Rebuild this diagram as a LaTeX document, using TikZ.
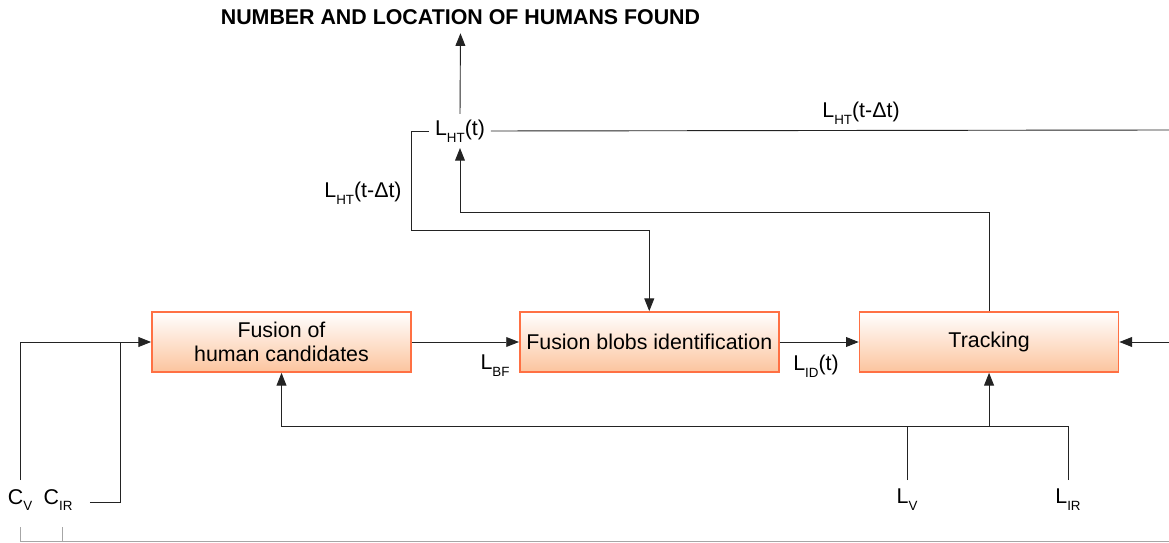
\documentclass[tikz,border=0pt]{standalone}
\usepackage{fontspec}
\setmainfont{Liberation Sans}
\usepackage{tikz}
\usetikzlibrary{arrows.meta,positioning}
\definecolor{boxedge}{RGB}{255,112,67}
\definecolor{boxfill}{RGB}{252,196,158}
\definecolor{wirecol}{RGB}{35,35,35}
% letter with a lowered small index
\newcommand{\lsub}[2]{#1\raisebox{-0.6ex}{\fontsize{9.5}{9.5}\selectfont #2}}

\begin{document}
\begin{tikzpicture}[x=0.025cm, y=-0.025cm, >={Triangle[length=9pt,width=7pt]},
  font=\fontsize{15.2}{17}\selectfont,
  block/.style={draw=boxedge, line width=1.2pt, top color=white, bottom color=boxfill,
    minimum width=6.475cm, minimum height=1.5cm, align=center},
  wire/.style={draw=wirecol, line width=0.65pt},
  sig/.style={inner sep=3pt},
  inp/.style={inner sep=3pt, outer sep=3.5pt}]
\useasboundingbox (0,0) rectangle (1169,543);
% processing chain
\node[block] (cands) at (281.5,342) {Fusion of\\human candidates};
\node[block, right=2.675cm of cands] (blobs) {Fusion blobs identification};
\node[block, right=1.975cm of blobs] (track) {Tracking};
% output and delayed track list
\node[font=\bfseries\fontsize{15.2}{17}\selectfont, inner sep=3pt] (found) at (460.5,17) {NUMBER AND LOCATION OF HUMANS FOUND};
\node[sig, inner sep=4pt] (lht) at (460,131) {\lsub{L}{HT}(t)};
\node[sig] (dtl) at (363,193) {\lsub{L}{HT}(t-Δt)};
\node[sig] (dtr) at (861,113) {\lsub{L}{HT}(t-Δt)};
\node[sig] (lbf) at (495,366) {\lsub{L}{BF}};
\node[sig] (lid) at (816,366) {\lsub{L}{ID}(t)};
% sensor inputs
\node[inp] (cv) at (20,500) {\lsub{C}{V}};
\node[inp] (cir) at (58,500) {\lsub{C}{IR}};
\node[inp] (lv) at (907,500) {\lsub{L}{V}};
\node[inp] (lir) at (1068,500) {\lsub{L}{IR}};
\coordinate (inR) at (1169,342);
\coordinate (outR) at (1169,130);

\draw[wire,->] (cands) -- (blobs);
\draw[wire,->] (blobs) -- (track);
\draw[wire,->] (inR) -- (track);
\draw[wire,->] (track.north) -- ++(0,-99) -| (lht.south);
\draw[wire,->, shorten >=3pt] (lht.north) -- (found.south);
\draw[wire] (lht.east) -- (outR);
\draw[wire,->] (lht.west) -| (411,230) -| (blobs.north);
\draw[wire,->] (cv.north) |- (cands.west);
\draw[wire, shorten <=6pt] ([yshift=-2pt]cir.east) -| (120,342);
\draw[wire,->] (lir.north) -- ++(0,-54) -| (cands.south);
\draw[wire] (lv.north) -- ++(0,-54);
\draw[wire,<-] (track.south) -- ++(0,54);
% bottom rail
\draw[gray!70, line width=0.65pt] (20,527) |- (1169,541.5);
\draw[gray!70, line width=0.65pt] (62,527) -- (62,541.5);
\end{tikzpicture}
\end{document}
